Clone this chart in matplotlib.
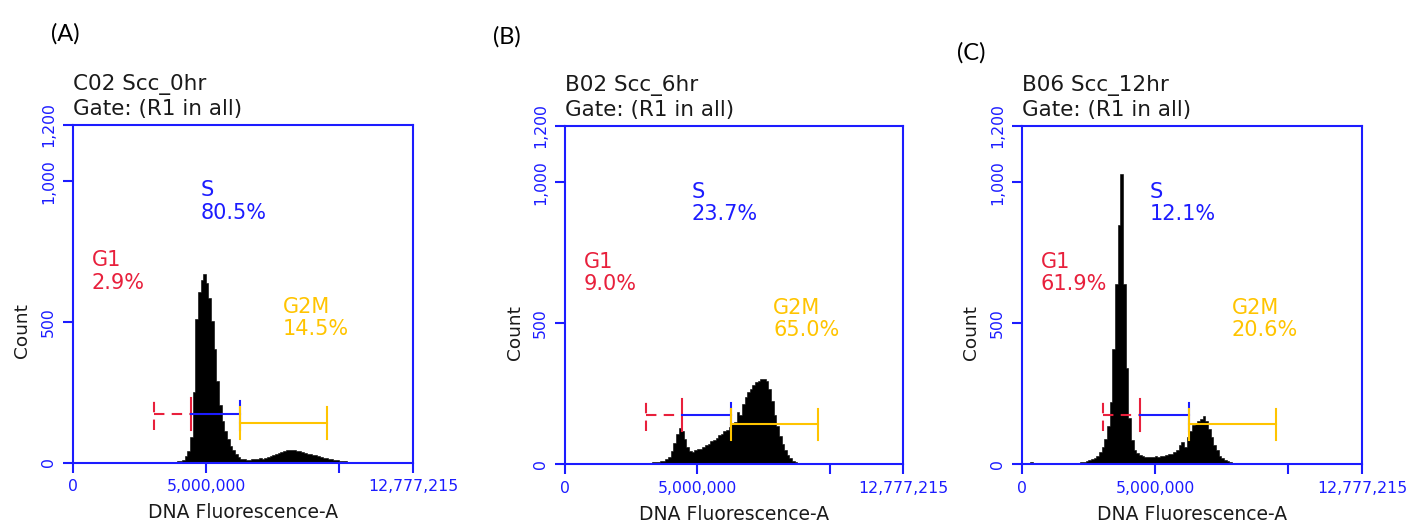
import numpy as np
import matplotlib
matplotlib.use("Agg")
import matplotlib.pyplot as plt

X_MAX = 12777215
N_BINS = 128

# DNA content histograms, 128 equal channels over 0..X_MAX
counts_0hr = [
    0, 0, 0, 0, 0, 0, 0, 0, 0, 0, 0, 0, 0, 0, 0, 0,
    0, 0, 0, 0, 0, 0, 0, 0, 0, 0, 0, 0, 0, 0, 0, 2,
    0, 0, 1, 0, 0, 3, 1, 4, 5, 8, 22, 42, 90, 250, 510, 605,
    648, 672, 640, 585, 502, 405, 290, 205, 148, 112, 84, 60, 43, 32, 21, 14,
    11, 9, 10, 12, 11, 13, 15, 14, 17, 19, 22, 26, 30, 33, 38, 41,
    44, 45, 44, 46, 42, 40, 38, 34, 32, 30, 27, 25, 22, 19, 17, 15,
    12, 11, 9, 8, 6, 5, 4, 3, 2, 0, 0, 0, 0, 0, 0, 0,
    0, 0, 0, 0, 0, 0, 0, 0, 0, 0, 0, 0, 0, 0, 0, 0,
]
counts_6hr = [
    0, 0, 0, 0, 0, 0, 0, 0, 0, 0, 0, 0, 0, 0, 0, 0,
    0, 0, 0, 0, 0, 0, 0, 0, 0, 0, 0, 0, 0, 4, 0, 3,
    5, 6, 6, 8, 9, 12, 16, 25, 45, 75, 105, 128, 118, 88, 60, 45,
    44, 48, 52, 55, 60, 66, 72, 80, 86, 92, 102, 108, 118, 122, 130, 142,
    150, 185, 175, 212, 238, 255, 268, 280, 290, 296, 302, 302, 296, 265, 222, 175,
    135, 100, 70, 48, 32, 20, 12, 7, 4, 2, 0, 0, 0, 0, 0, 0,
    0, 0, 0, 0, 0, 0, 0, 3, 0, 0, 0, 0, 0, 0, 0, 0,
    2, 0, 3, 0, 2, 0, 3, 0, 2, 0, 3, 0, 2, 0, 3, 0,
]
counts_12hr = [
    0, 0, 0, 6, 0, 0, 0, 0, 0, 0, 0, 0, 0, 0, 0, 0,
    0, 0, 0, 0, 0, 3, 6, 8, 10, 13, 18, 22, 30, 42, 60, 88,
    135, 220, 410, 640, 850, 1030, 640, 340, 165, 85, 50, 38, 32, 28, 26, 25,
    24, 26, 27, 26, 28, 30, 31, 34, 36, 42, 50, 68, 78, 60, 95, 118,
    138, 146, 152, 160, 170, 152, 125, 95, 68, 48, 30, 20, 14, 10, 6, 3,
    0, 0, 0, 0, 0, 0, 0, 0, 0, 0, 0, 0, 3, 2, 0, 4,
    0, 3, 5, 0, 4, 3, 0, 2, 0, 3, 0, 0, 0, 0, 0, 0,
    0, 0, 0, 0, 0, 0, 0, 0, 0, 0, 0, 0, 0, 0, 0, 0,
]

panel_tags = ["(A)", "(B)", "(C)"]
sample_names = ["C02 Scc_0hr", "B02 Scc_6hr", "B06 Scc_12hr"]
gate_title = "Gate: (R1 in all)"
phases = ["G1", "S", "G2M"]
phase_pct = [
    [2.9, 80.5, 14.5],
    [9.0, 23.7, 65.0],
    [61.9, 12.1, 20.6],
]
# gate boundaries: G1 | S | G2M
gate_edges = [3.06e6, 4.42e6, 6.27e6, 9.55e6]

BLUE = "#1c1cff"
RED = "#e8203c"
GOLD = "#ffc400"
INK = "#1a1a1a"
phase_colors = [RED, BLUE, GOLD]

fig = plt.figure(figsize=(14.12, 5.22), dpi=100)
plt.rcParams["font.family"] = ["DejaVu Sans"]

W, H = 1412, 522
# axes boxes in pixels: left, right, top, bottom
boxes = [(73, 413, 125, 462.5), (565, 903, 126, 464), (1022, 1362, 126, 464)]
tag_pos = [(51, 40.7), (493, 43.3), (957, 60)]

edges = np.linspace(0, X_MAX, N_BINS + 1)
all_counts = [counts_0hr, counts_6hr, counts_12hr]

for i in range(3):
    l, r, t, b = boxes[i]
    ax = fig.add_axes([l / W, (H - b) / H, (r - l) / W, (b - t) / H])

    c = np.asarray(all_counts[i], dtype=float)
    ax.fill_between(edges, np.append(c, c[-1]), step="post",
                    facecolor="black", edgecolor="black", lw=0.4)

    ax.set_xlim(0, X_MAX)
    ax.set_ylim(0, 1200)
    ax.set_xticks([0, 5e6, 10e6, X_MAX], labels=["0", "5,000,000", "", "12,777,215"])
    ax.set_yticks([0, 500, 1000, 1200], labels=["0", "500", "1,000", "1,200"])
    ax.tick_params(direction="out", length=7.2, width=1.5, color=BLUE,
                   labelcolor=BLUE, labelsize=11.3, pad=5)
    for lab in ax.get_yticklabels():
        lab.set_rotation(90)
        lab.set_va("center")
    for sp in ax.spines.values():
        sp.set_color(BLUE)
        sp.set_linewidth(1.5)

    # gate markers
    e0, e1, e2, e3 = gate_edges
    y_lo, y_hi, cap = 173, 141, 56
    ax.plot([e0, e1], [y_lo, y_lo], color=RED, lw=1.5, ls=(0, (5, 3.5)), zorder=3)
    ax.plot([e0, e0], [y_lo - cap, y_lo + cap], color=RED, lw=1.5, ls=(0, (5, 3.5)), zorder=3)
    ax.plot([e1, e1], [y_lo - cap, y_lo + cap], color=RED, lw=1.5, zorder=3)
    ax.plot([e1, e2], [y_lo, y_lo], color=BLUE, lw=1.5, zorder=3)
    ax.plot([e2, e2], [y_lo - cap, y_lo + cap * 0.8], color=BLUE, lw=1.5, zorder=3)
    ax.plot([e2, e3], [y_hi, y_hi], color=GOLD, lw=1.5, zorder=4)
    ax.plot([e2, e2], [y_hi - cap, y_hi + cap], color=GOLD, lw=1.5, zorder=4)
    ax.plot([e3, e3], [y_hi - cap, y_hi + cap], color=GOLD, lw=1.5, zorder=4)

    # phase labels
    label_x = [0.70e6, 4.80e6, 7.87e6]
    label_y = [(697, 616), (946, 867), (532, 454)]
    for k in range(3):
        ax.text(label_x[k], label_y[k][0], phases[k], color=phase_colors[k],
                fontsize=15, va="baseline", ha="left")
        ax.text(label_x[k], label_y[k][1], f"{phase_pct[i][k]:.1f}%",
                color=phase_colors[k], fontsize=15, va="baseline", ha="left")

    ax.annotate(sample_names[i], xy=(0, 1), xycoords="axes fraction",
                xytext=(0, 25.5), textcoords="offset points",
                fontsize=15.5, color=INK, va="baseline", ha="left")
    ax.annotate(gate_title, xy=(0, 1), xycoords="axes fraction",
                xytext=(0, 7.2), textcoords="offset points",
                fontsize=15.5, color=INK, va="baseline", ha="left")

    ax.text(-0.149, 0.39, "Count", rotation=90, transform=ax.transAxes,
            ha="center", va="center", fontsize=13.3, color=INK)
    ax.text(0.5, -0.148, "DNA Fluorescence-A", transform=ax.transAxes,
            ha="center", va="center", fontsize=13.5, color=INK)

    tx, ty = tag_pos[i]
    fig.text(tx / W, 1 - ty / H, panel_tags[i], fontsize=17, family="Lato",
             ha="left", va="baseline", color="black")

fig.savefig("out.png", dpi=100)
